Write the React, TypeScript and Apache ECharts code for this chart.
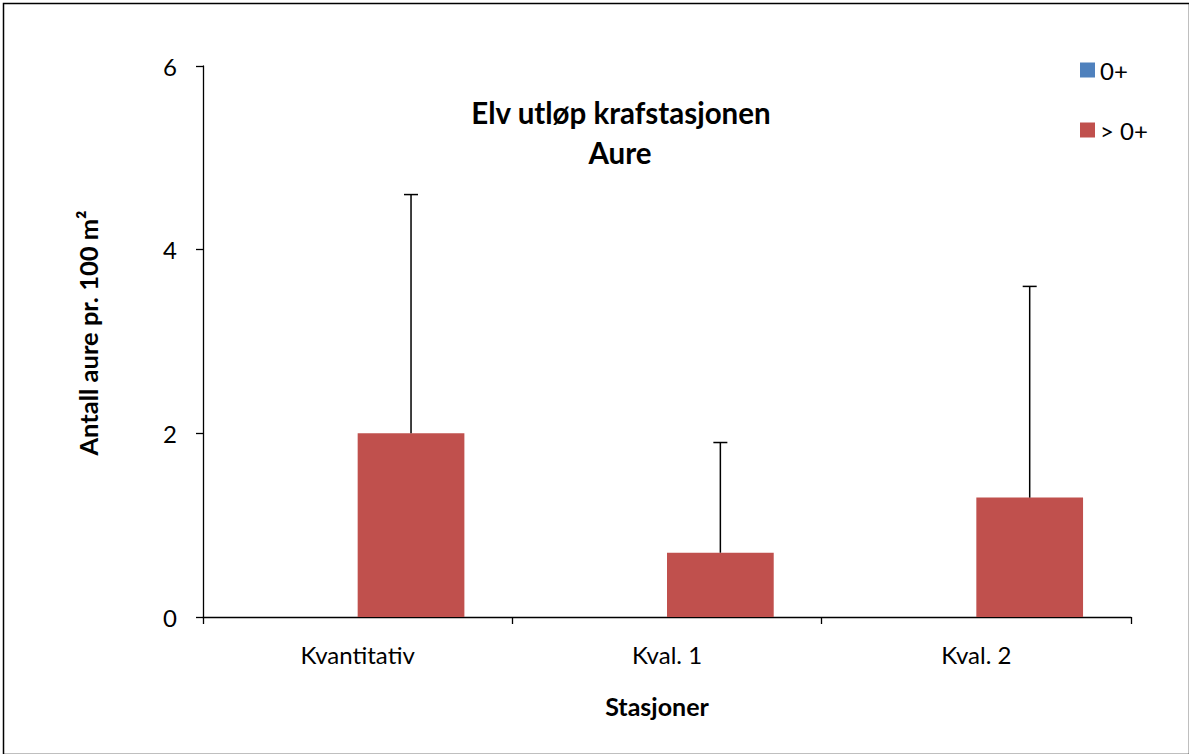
import React, { useEffect, useRef } from "react";
import * as echarts from "echarts";

const categories = ["Kvantitativ", "Kval. 1", "Kval. 2"];
const seriesNames = ["0+", "> 0+"];
const values0 = [0, 0, 0];
const valuesOlder = [2.0, 0.7, 1.3];
const errorTops = [4.6, 1.9, 3.6];
const yTicks = { min: 0, max: 6, interval: 2 };

const FONT = "Lato";

export default function App() {
  const ref = useRef<HTMLDivElement>(null);
  useEffect(() => {
    if (!ref.current) return;
    const chart = echarts.init(ref.current, null, { renderer: "svg" });
    const errData = categories.map((_, i) => [i, valuesOlder[i], errorTops[i]]);
    const txt = (text: string, x: number, y: number, size: number, rot = 0) => ({
      type: "text",
      x,
      y,
      rotation: rot,
      style: {
        text,
        fontFamily: FONT,
        fontSize: size,
        fontWeight: "bold",
        fill: "#000",
        align: "center",
        verticalAlign: "middle",
      },
    });
    chart.setOption({
      animation: false,
      backgroundColor: "#ffffff",
      textStyle: { fontFamily: FONT },
      grid: { left: 203, right: 58, top: 66, bottom: 137, containLabel: false },
      legend: {
        orient: "vertical",
        left: 1075,
        top: 53,
        itemWidth: 15,
        itemHeight: 15,
        itemGap: 36,
        icon: "rect",
        textStyle: { fontFamily: FONT, fontSize: 24, color: "#000", padding: [0, 0, 0, 0] },
        data: seriesNames,
      },
      xAxis: {
        type: "category",
        data: categories,
        axisLine: { lineStyle: { color: "#000", width: 1.3 } },
        axisTick: { show: true, length: 7, lineStyle: { color: "#000", width: 1.3 } },
        axisLabel: { fontFamily: FONT, fontSize: 24, color: "#000", margin: 25 },
      },
      yAxis: {
        type: "value",
        min: yTicks.min,
        max: yTicks.max,
        interval: yTicks.interval,
        splitLine: { show: false },
        axisLine: { show: true, lineStyle: { color: "#000", width: 1.3 } },
        axisTick: { show: true, length: 7, lineStyle: { color: "#000", width: 1.3 } },
        axisLabel: { fontFamily: FONT, fontSize: 24, color: "#000", margin: 26 },
      },
      series: [
        {
          name: seriesNames[0],
          type: "bar",
          data: values0,
          itemStyle: { color: "#4F81BD" },
          barGap: "0%",
          barCategoryGap: "31%",
        },
        {
          name: seriesNames[1],
          type: "bar",
          data: valuesOlder,
          itemStyle: { color: "#C0504D" },
          barGap: "0%",
          barCategoryGap: "31%",
        },
        {
          type: "custom",
          name: "err",
          data: errData,
          encode: { x: 0, y: [1, 2] },
          z: 10,
          renderItem: (params: any, api: any) => {
            const idx = api.value(0);
            const base = api.coord([idx, api.value(1)]);
            const top = api.coord([idx, api.value(2)]);
            const band = api.size([1, 0])[0];
            const x = base[0] + band * 0.69 / 4;
            const cap = 7;
            const style = { stroke: "#000", lineWidth: 1.5, fill: "none" };
            return {
              type: "group",
              children: [
                { type: "line", shape: { x1: x, y1: base[1], x2: x, y2: top[1] }, style },
                { type: "line", shape: { x1: x - cap, y1: top[1], x2: x + cap, y2: top[1] }, style },
              ],
            };
          },
        },
      ],
      graphic: [
        {
          type: "rect",
          left: 1,
          top: 1,
          shape: { width: 1186, height: 751 },
          style: { fill: "none", stroke: "#000", lineWidth: 1.5 },
          silent: true,
        },
        txt("Elv utløp krafstasjonen", 621, 112, 29.5),
        txt("Aure", 620, 152, 29.5),
        txt("Stasjoner", 657, 706, 25),
        txt("Antall aure pr. 100 m²", 88, 333, 25.5, Math.PI / 2),
      ],
    });
    return () => chart.dispose();
  }, []);
  return (
    <div
      ref={ref}
      style={{ position: "fixed", left: 0, top: 0, width: 1189, height: 754, background: "#fff" }}
    />
  );
}
